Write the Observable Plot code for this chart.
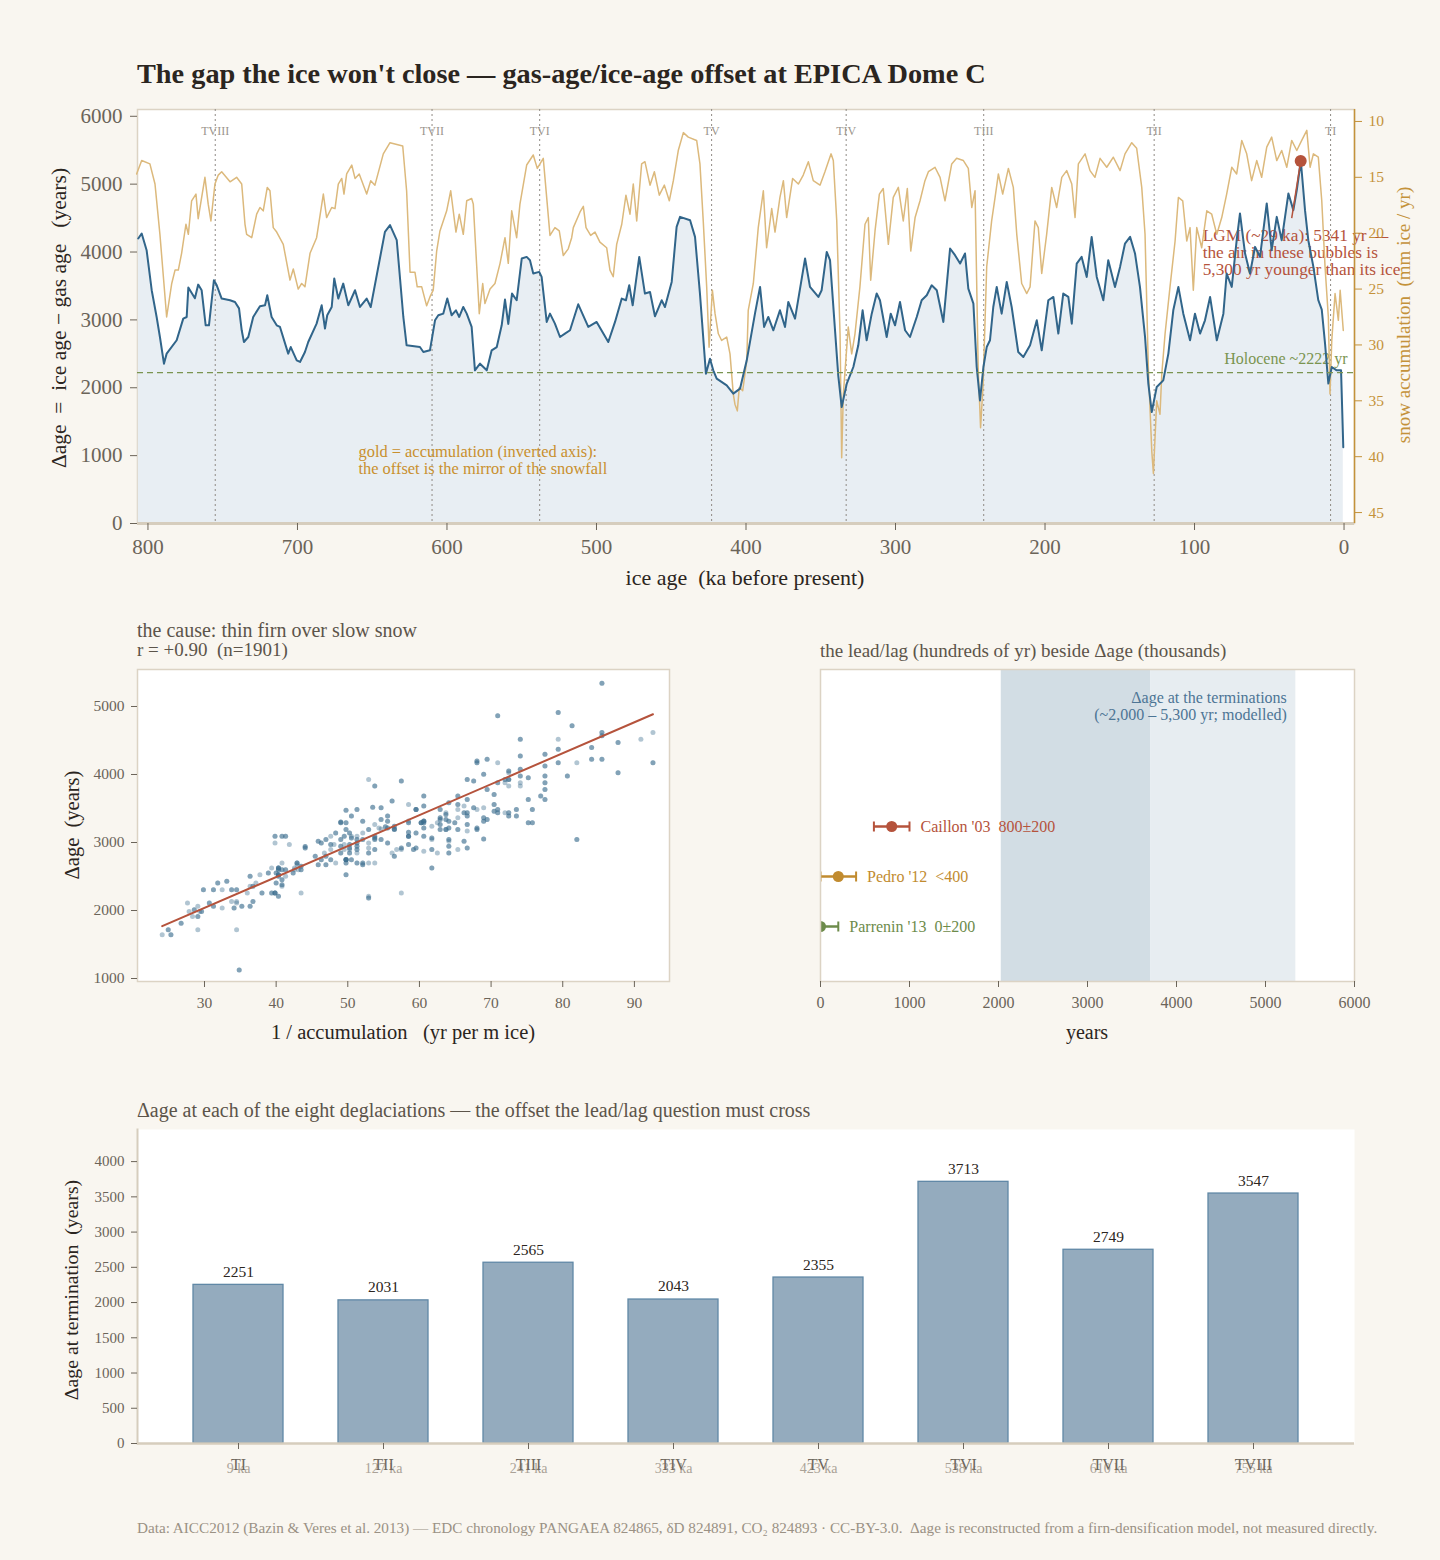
<!DOCTYPE html>
<html><head><meta charset="utf-8">
<script src="https://cdn.jsdelivr.net/npm/d3@7"></script>
<script src="https://cdn.jsdelivr.net/npm/@observablehq/plot@0.6"></script>
<style>
body{margin:0;background:#f9f6f0;}
#page{position:relative;width:1440px;height:1560px;background:#f9f6f0;font-family:"Liberation Serif","DejaVu Serif",serif;overflow:hidden;}
.t{position:absolute;white-space:pre;line-height:1;}
.rot{position:absolute;white-space:pre;line-height:1;transform:translate(-50%,-50%) rotate(-90deg);}
.ctr{position:absolute;white-space:pre;line-height:1;transform:translate(-50%,-50%);}
svg{position:absolute;}
</style></head><body><div id="page"></div>
<script>
// ---------------- data ----------------
const dAgeAge = [806.5,804.2,800.9,797.5,794.2,792.0,789.3,787.5,780.8,776.4,
774.1,773.0,768.6,766.4,764.1,761.4,759.2,755.9,754.0,750.7,
745.1,741.8,739.1,737.3,735.8,732.9,729.6,725.1,721.7,720.2,
717.3,713.9,711.7,706.2,704.5,700.5,698.3,695.0,692.8,687.2,
683.8,681.6,680.1,677.1,675.4,672.7,669.4,666.0,661.5,658.2,
653.7,651.0,641.5,638.1,633.6,629.2,627.0,618.1,615.8,611.4,
608.0,605.8,602.5,599.8,596.9,594.0,591.8,589.1,586.8,583.5,
581.3,577.9,573.4,570.1,566.7,563.4,561.2,559.0,556.5,553.4,
550.0,546.7,544.5,542.3,538.3,536.7,533.3,531.1,527.8,524.4,
521.1,517.7,512.2,505.5,499.9,492.1,487.6,483.1,480.3,478.1,
475.8,471.4,467.6,464.2,460.9,456.4,454.2,449.7,446.4,444.1,
437.4,434.1,430.8,426.8,424.1,421.9,419.6,412.9,408.5,404.0,
399.5,394.0,390.6,387.9,385.1,381.7,377.3,373.9,371.7,367.2,
360.5,357.2,351.6,349.4,346.0,343.8,338.3,336.0,332.6,328.2,
324.9,322.0,319.3,315.9,312.6,310.4,305.9,303.2,300.3,297.0,
293.6,290.3,285.8,282.5,279.1,275.8,272.4,268.0,263.5,260.2,
256.8,253.5,251.3,247.9,245.7,243.5,241.2,239.0,236.8,234.6,
232.3,229.0,225.6,222.3,217.9,214.5,210.0,205.5,202.2,197.8,
194.4,191.1,187.8,184.4,182.1,178.8,175.5,172.1,168.8,165.4,
161.0,157.7,153.2,149.8,146.5,143.1,139.8,136.5,133.1,130.9,
128.6,125.3,120.9,117.5,114.2,110.8,107.5,103.0,99.7,96.3,
93.0,89.6,85.1,80.7,78.5,75.1,71.8,69.6,66.2,62.9,
59.5,56.2,51.7,48.4,45.0,41.7,37.2,33.9,31.6,28.9,
26.1,23.9,20.5,17.2,14.9,12.7,10.5,8.2,4.9,2.0,0.5];
const dAgeVal = [4199,4273,4027,3437,3043,2748,2355,2503,2700,3019,
3043,3476,3318,3520,3437,2920,2920,3584,3510,3314,
3289,3264,3170,2847,2674,2748,3043,3200,3215,3363,
3043,2920,2896,2503,2600,2404,2380,2527,2674,2945,
3215,2872,3068,3190,3609,3314,3535,3215,3437,3190,
3314,3190,4297,4396,4174,3043,2625,2600,2527,2552,
2994,3068,3092,3314,3068,3141,3043,3190,3092,2896,
2257,2355,2257,2552,2600,2920,3300,2940,3388,3289,
3904,3928,3880,3683,3707,3633,2970,3092,2945,2748,
2798,2847,3230,2896,2970,2674,2970,3314,3289,3510,
3215,3928,3388,3412,3053,3289,3190,3559,4370,4518,
4469,4223,3388,2208,2429,2257,2134,2035,1913,1987,
2404,3092,3486,2896,3043,2847,3141,2896,3264,3019,
3904,3486,3338,3437,4002,3880,2183,1716,2061,2306,
2625,3141,2700,3092,3388,3289,2748,3092,2920,3264,
2847,2748,3043,3289,3363,3510,3437,2970,4052,3953,
3830,3978,3461,3240,2306,1814,2306,2600,2700,3190,
3486,3092,3559,3190,2527,2453,2625,2994,2552,3289,
3338,2798,3388,3338,2945,3830,3928,3633,4223,3633,
3289,3880,3486,3781,4125,4223,3978,3486,2750,2061,
1642,2011,2109,2503,3141,3486,3092,2700,3092,2798,
2994,3338,2700,3092,3683,3486,4174,4568,3978,3683,
4076,3928,4716,4027,4518,4174,4863,4617,4912,5341,
4617,4174,3781,3289,3150,2650,2061,2306,2257,2257,1125];

const accAge = [807.6,804.2,798.7,795.3,792.0,787.5,784.1,781.9,779.7,777.5,774.6,773.0,770.8,767.9,766.4,761.9,759.7,757.9,755.2,753.0,
750.7,745.1,740.7,737.3,735.1,734.0,730.6,727.3,725.1,722.9,720.2,718.4,716.2,713.9,709.5,705.0,702.8,699.5,697.2,695.0,
691.6,687.2,684.9,682.7,680.5,677.1,674.9,672.7,670.4,668.9,667.1,663.7,661.5,658.7,653.7,651.0,648.2,642.6,638.1,629.6,
627.0,624.7,621.4,619.9,616.9,613.6,611.4,609.2,606.9,604.7,600.2,597.5,594.0,591.8,589.1,586.8,583.5,582.4,580.1,578.4,
576.1,574.6,571.2,567.9,564.5,561.2,559.0,556.7,553.4,551.2,546.7,542.3,539.6,535.6,531.1,527.8,524.9,522.2,518.9,516.6,
515.5,511.0,508.8,507.0,503.9,501.0,497.7,493.2,491.0,488.8,486.5,483.1,480.3,477.6,475.4,473.1,469.8,467.6,464.2,461.3,
458.0,454.6,451.3,448.6,445.3,441.9,438.6,433.0,430.8,428.6,426.3,424.7,422.5,420.7,418.5,416.3,412.9,410.7,408.5,407.4,
405.8,404.5,402.2,399.5,398.5,395.1,391.8,388.4,386.2,382.8,380.6,377.3,375.0,372.8,368.8,365.0,361.7,358.3,355.0,350.5,
347.2,343.1,341.6,339.3,337.1,336.0,334.9,331.6,329.3,327.1,323.8,320.4,318.2,316.6,313.7,310.8,308.2,304.8,301.5,298.1,
294.8,292.1,289.8,286.9,283.6,280.3,278.0,273.6,270.2,266.9,262.4,259.1,254.6,251.3,249.0,246.8,244.7,243.1,241.4,239.0,
235.7,233.4,231.2,228.3,224.5,221.2,218.9,215.6,212.2,210.0,206.7,204.5,202.2,198.9,195.5,192.2,188.8,185.5,182.1,179.9,
177.7,173.2,169.9,166.6,163.2,158.7,154.3,149.8,146.5,142.0,138.7,135.3,133.1,130.9,128.6,127.5,125.3,123.1,121.9,119.7,
116.4,113.0,110.8,107.9,105.2,103.0,100.8,98.5,95.2,91.8,88.5,85.1,81.8,78.5,75.1,71.8,68.4,65.1,61.8,58.4,
55.1,51.7,48.4,45.0,41.7,38.3,35.0,31.6,28.3,24.9,22.7,20.5,17.2,14.9,12.7,10.5,9.4,8.2,6.0,3.8,2.6,0.5];
const accVal = [14.7,13.5,13.8,15.6,20.1,27.5,24.5,23.3,23.3,21.8,19.2,20.1,17.1,16.5,18.7,15.0,17.4,18.9,15.6,14.8,
14.5,15.4,15.0,15.6,19.2,20.1,20.4,18.3,17.7,18.0,15.9,16.2,19.5,19.9,21.0,24.2,23.2,25.0,24.5,24.8,
21.8,20.4,18.4,16.5,18.6,17.7,17.8,15.6,15.1,16.5,14.7,13.9,15.1,14.7,16.5,15.3,15.7,12.9,11.9,12.2,
16.2,23.5,23.5,24.8,24.8,26.5,25.7,25.1,21.6,19.8,18.0,16.2,19.9,18.3,20.1,17.1,16.9,17.4,23.0,27.2,
24.5,26.3,25.0,24.5,22.7,20.4,22.7,18.0,20.4,17.4,13.9,13.0,14.2,13.3,20.2,19.5,19.8,22.0,21.4,20.4,
19.5,18.1,17.6,19.5,20.2,19.9,20.8,21.3,23.3,23.9,21.0,19.2,16.6,18.3,15.6,18.9,13.8,13.6,15.7,14.5,
16.6,15.7,17.1,15.3,12.6,11.0,11.4,11.7,13.8,18.9,24.8,30.2,25.1,27.2,29.0,29.6,29.3,30.8,34.4,35.3,
35.9,33.8,34.1,31.4,26.9,24.5,19.5,16.2,21.3,17.8,19.9,16.8,15.3,18.6,15.1,15.6,14.8,13.6,15.3,15.7,
14.5,12.9,13.5,18.9,29.0,40.1,34.4,28.4,30.8,29.0,24.8,19.2,18.6,24.2,19.8,16.5,16.0,21.0,16.8,15.9,
18.9,16.0,21.6,18.6,17.1,15.3,14.5,14.1,15.0,17.1,13.8,13.3,13.5,14.2,17.7,16.2,32.0,37.4,33.5,23.0,
18.9,16.8,14.7,16.5,14.2,15.9,20.1,24.5,25.4,24.8,18.9,19.5,23.6,20.1,15.9,17.7,15.0,14.4,15.6,18.6,
13.8,12.9,14.4,15.0,13.3,14.1,13.2,14.4,12.9,11.9,12.4,15.9,20.1,32.0,39.5,41.5,35.0,36.2,32.6,29.0,
24.8,20.7,16.8,17.1,20.7,19.5,25.1,19.5,21.3,18.0,18.3,20.1,18.6,16.5,14.1,14.7,11.7,12.9,15.3,13.5,
15.0,12.3,11.4,13.5,12.6,14.1,11.7,12.6,11.7,10.8,14.1,12.9,13.2,17.1,23.0,27.5,34.4,29.6,25.4,27.8,25.1,28.7];

const termNames = ["TI","TII","TIII","TIV","TV","TVI","TVII","TVIII"];
const termAges  = [9,127,241,333,423,538,610,755];
const termDage  = [2251,2031,2565,2043,2355,3713,2749,3547];

const holoceneDage = 2222;
const lgmAge = 29, lgmDage = 5341;

// regression line (Δage = slope·x + intercept)
const regSlope = 45.5, regIntercept = 673;

const studyNames  = ["Caillon '03","Pedro '12","Parrenin '13"];
const studyLag    = [800,200,0];
const studyLo     = [600,0,-200];
const studyHi     = [1000,400,200];
const studyLabels = ["Caillon '03  800±200","Pedro '12  <400","Parrenin '13  0±200"];
const studyColors = ["#b5533c","#c18b2f","#6d8b4b"];

const xTicksTop   = [800,700,600,500,400,300,200,100,0];
const yTicksTop   = [0,1000,2000,3000,4000,5000,6000];
const accTicks    = [10,15,20,25,30,35,40,45];
const scatXTicks  = [30,40,50,60,70,80,90];
const scatYTicks  = [1000,2000,3000,4000,5000];
const lagTicks    = [0,1000,2000,3000,4000,5000,6000];
const barTicks    = [0,500,1000,1500,2000,2500,3000,3500,4000];

// ---------------- styles ----------------
const FONT = '"Liberation Serif","DejaVu Serif",serif';
const INK = "#2b2520", TICK = "#6b6459", TAN = "#dcd3c4", GOLD = "#c4923a", SUB = "#5c544a";
const fmt = d => String(d);
const page = document.getElementById("page");
function txt(cls, s, left, top, css){const d=document.createElement("div");d.className=cls;d.textContent=s;d.style.left=left+"px";d.style.top=top+"px";Object.assign(d.style,css||{});page.appendChild(d);return d;}
function put(svg,left,top){svg.style.left=left+"px";svg.style.top=top+"px";page.appendChild(svg);}

// ---------------- panel 1 ----------------
const dRows = dAgeAge.map((a,i)=>({age:a, v:dAgeVal[i]}));
const acc2y = d3.scaleLinear([8.93,45.98],[6100,0]);
const aRows = accAge.map((a,i)=>({age:a, acc:accVal[i], v:acc2y(accVal[i])}));
const tRows = termNames.map((n,i)=>({name:n, age:termAges[i], d:termDage[i]}));
const xDom = [807,-7];
const lgm = [{age:lgmAge, v:lgmDage}];

const p1 = Plot.plot({
  width:1400, height:500, marginLeft:97, marginRight:86, marginTop:9, marginBottom:77,
  style:{background:"transparent", fontFamily:FONT, color:TICK},
  x:{domain:xDom, label:null}, y:{domain:[0,6100], label:null},
  marks:[
    Plot.frame({fill:"white", stroke:TAN, strokeWidth:1.5}),
    Plot.areaY(dRows,{x:"age", y:"v", fill:"#e8eef3"}),
    Plot.ruleX(tRows,{x:"age", stroke:"#8f8a84", strokeDasharray:"2,3", strokeWidth:1}),
    Plot.text(tRows,{x:"age", text:"name", frameAnchor:"top", lineAnchor:"middle", dy:22, fontSize:12, fill:"#9b958d"}),
    Plot.text(["gold = accumulation (inverted axis):\nthe offset is the mirror of the snowfall"],
      {frameAnchor:"bottom-left", textAnchor:"start", lineAnchor:"bottom", dx:221, dy:-50, fontSize:16.4, lineHeight:0.98, fill:"#c8902e"}),
    Plot.text(lgm,{x:"age", y:"v", text:()=>`LGM (~${lgmAge} ka): ${lgmDage} yr —\nthe air in these bubbles is\n5,300 yr younger than its ice`,
      textAnchor:"start", lineAnchor:"top", dx:-98, dy:68, fontSize:17.3, lineHeight:0.98, fill:"#b5533c"}),
    Plot.text([holoceneDage],{y:d=>d, text:d=>`Holocene ~${d} yr`, frameAnchor:"right", textAnchor:"end", dx:-7, dy:-14, fontSize:16, fill:"#7a9450"}),
    Plot.lineY(aRows,{x:"age", y:"v", stroke:"#dcb97c", strokeWidth:1.5}),
    Plot.lineY(dRows,{x:"age", y:"v", stroke:"#31658a", strokeWidth:2}),
    Plot.ruleY([holoceneDage],{stroke:"#7a9450", strokeDasharray:"6,4", strokeWidth:1.3}),
    Plot.link(lgm,{x1:"age", y1:"v", x2:d=>d.age+6, y2:d=>d.v-840, stroke:"#b5533c", strokeWidth:1.5}),
    Plot.dot(lgm,{x:"age", y:"v", r:6, fill:"#b5533c"}),
    Plot.ruleY([0],{stroke:"#d6cdbd", strokeWidth:3}),
    Plot.ruleX([xDom[1]],{stroke:GOLD, strokeWidth:1.5}),
    Plot.axisY({anchor:"left", ticks:yTicksTop, tickFormat:fmt, fontSize:21, tickSize:7, tickPadding:8, label:null, color:TICK}),
    Plot.axisY({anchor:"right", ticks:accTicks.map(a=>acc2y(a)), tickFormat:d=>String(Math.round(acc2y.invert(d))), fontSize:15.5, tickSize:7, tickPadding:7, label:null, color:GOLD}),
    Plot.axisX({ticks:xTicksTop, tickFormat:fmt, fontSize:21, tickSize:7, tickPadding:9, label:null, color:TICK})
  ]
});
put(p1,40,100);

// ---------------- panel 2: scatter ----------------
const aSorted = aRows.slice().sort((a,b)=>a.age-b.age);
const dSorted = dRows.slice().sort((a,b)=>a.age-b.age);
const bis = d3.bisector(d=>d.age);
const near = (arr,age)=>arr[bis.center(arr,age)];
const scatter = dRows.map(d=>({x:1000/near(aSorted,d.age).acc, y:d.v}))
  .concat(aRows.map(a=>({x:1000/a.acc, y:near(dSorted,a.age).v})));
const xExt = d3.extent(scatter, d=>d.x);
const regLine = xExt.map(x=>({x, y:regSlope*x + regIntercept}));

const p2 = Plot.plot({
  width:660, height:400, marginLeft:97, marginRight:31, marginTop:9, marginBottom:79,
  style:{background:"transparent", fontFamily:FONT, color:TICK},
  x:{domain:[20.65,94.9], label:null}, y:{domain:[956,5544], label:null},
  marks:[
    Plot.frame({fill:"white", stroke:TAN, strokeWidth:1.5}),
    Plot.dot(scatter,{x:"x", y:"y", r:2.5, fill:"#3b6d8f", fillOpacity:0.4, stroke:null}),
    Plot.line(regLine,{x:"x", y:"y", stroke:"#b5533c", strokeWidth:2}),
    Plot.axisX({ticks:scatXTicks, tickFormat:fmt, fontSize:15.5, tickSize:6, tickPadding:9, label:null, color:TICK}),
    Plot.axisY({ticks:scatYTicks, tickFormat:fmt, fontSize:15.5, tickSize:6, tickPadding:7, label:null, color:TICK})
  ]
});
put(p2,40,660);

// ---------------- panel 3: lead/lag ----------------
const sRows = studyNames.map((n,i)=>({name:n, lag:studyLag[i], lo:studyLo[i], hi:studyHi[i], label:studyLabels[i], color:studyColors[i], row:studyNames.length-1-i}));
const band = [{x1:d3.min(termDage), x2:d3.max(termDage), fill:"#d2dde4"},{x1:d3.max(termDage), x2:lgmDage, fill:"#e7edf1"}];
const p3 = Plot.plot({
  width:700, height:400, marginLeft:100, marginRight:66, marginTop:9, marginBottom:79,
  style:{background:"transparent", fontFamily:FONT, color:TICK},
  x:{domain:[0,6000], label:null}, y:{domain:[-1.1,5.14], label:null, axis:null},
  color:{type:"identity"},
  marks:[
    Plot.frame({fill:"white", stroke:null}),
    Plot.rect(band,{x1:"x1", x2:"x2", fill:"fill"}),
    Plot.text([lgmDage],{x:d=>d, text:()=>"Δage at the terminations\n(~2,000 – 5,300 yr; modelled)", frameAnchor:"top", textAnchor:"end", lineAnchor:"top", dx:-9, dy:21, fontSize:16, lineHeight:1.06, fill:"#4d7595"}),
    Plot.link(sRows,{x1:"lo", x2:"hi", y1:"row", y2:"row", stroke:"color", strokeWidth:2.5, clip:true}),
    Plot.link(sRows,{x1:"lo", x2:"lo", y1:d=>d.row-0.1, y2:d=>d.row+0.1, stroke:"color", strokeWidth:2, clip:true}),
    Plot.link(sRows,{x1:"hi", x2:"hi", y1:d=>d.row-0.1, y2:d=>d.row+0.1, stroke:"color", strokeWidth:2, clip:true}),
    Plot.dot(sRows,{x:"lag", y:"row", r:5.5, fill:"color", clip:true}),
    Plot.text(sRows,{x:"hi", y:"row", text:"label", textAnchor:"start", dx:11, fontSize:16, fill:"color"}),
    Plot.frame({stroke:TAN, strokeWidth:1.5}),
    Plot.axisX({ticks:lagTicks, tickFormat:fmt, fontSize:16, tickSize:6, tickPadding:9, label:null, color:TICK})
  ]
});
put(p3,720,660);

// ---------------- panel 4: bars ----------------
const p4 = Plot.plot({
  width:1400, height:380, marginLeft:97, marginRight:86, marginTop:9, marginBottom:57,
  style:{background:"transparent", fontFamily:FONT, color:TICK},
  x:{domain:termNames, padding:0.38, label:null}, y:{domain:[0, d3.max(termDage)*1.2], label:null},
  marks:[
    Plot.frame({fill:"white", stroke:null}),
    Plot.barY(tRows,{x:"name", y:"d", fill:"#94abbe", stroke:"#6088a6", strokeWidth:1.3}),
    Plot.text(tRows,{x:"name", y:"d", text:d=>String(d.d), dy:-13, fontSize:15.5, fill:INK}),
    Plot.ruleY([0],{stroke:"#d6cdbd", strokeWidth:2.5}),
    Plot.frame({anchor:"left", stroke:"#d6cdbd", strokeWidth:2}),
    Plot.text(tRows,{x:"name", text:d=>`${d.age} ka`, frameAnchor:"bottom", lineAnchor:"middle", dy:25, fontSize:14, fill:"#aaa297"}),
    Plot.axisX({fontSize:16, tickSize:6, tickPadding:9, label:null, color:"#6e675d"}),
    Plot.axisY({ticks:barTicks, tickFormat:fmt, fontSize:15, tickSize:6, tickPadding:7, label:null, color:TICK})
  ]
});
put(p4,40,1120);

// ---------------- text ----------------
txt("t","The gap the ice won't close — gas-age/ice-age offset at EPICA Dome C",137,59.5,{fontSize:"28.3px",fontWeight:"bold",color:INK});
txt("rot","Δage  =  ice age − gas age   (years)",60,318,{fontSize:"21.5px",color:INK});
txt("rot","snow accumulation  (mm ice / yr)",1403,315,{fontSize:"19px",color:GOLD});
txt("ctr","ice age  (ka before present)",745,578,{fontSize:"22px",color:INK});

txt("t","the cause: thin firn over slow snow",137,620,{fontSize:"20px",color:SUB});
txt("t","r = +0.90  (n=1901)",137,640,{fontSize:"19px",color:SUB});
txt("rot","Δage  (years)",72,825,{fontSize:"20.5px",color:INK});
txt("ctr","1 / accumulation   (yr per m ice)",403,1032,{fontSize:"20.5px",color:INK});

txt("t","the lead/lag (hundreds of yr) beside Δage (thousands)",820,640.5,{fontSize:"19px",color:SUB});
txt("ctr","years",1087,1032,{fontSize:"20px",color:INK});

txt("t","Δage at each of the eight deglaciations — the offset the lead/lag question must cross",137,1100,{fontSize:"20px",color:SUB});
txt("rot","Δage at termination  (years)",72,1290,{fontSize:"19.8px",color:INK});

txt("t","Data: AICC2012 (Bazin & Veres et al. 2013) — EDC chronology PANGAEA 824865, δD 824891, CO₂ 824893 · CC-BY-3.0.  Δage is reconstructed from a firn-densification model, not measured directly.",137,1520,{fontSize:"15.2px",color:"#9a9184"});
</script></body></html>
